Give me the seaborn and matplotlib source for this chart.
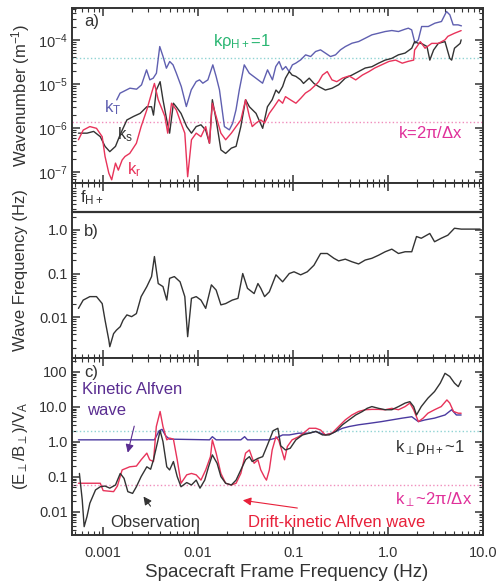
import numpy as np
import pandas as pd
import matplotlib
matplotlib.use("Agg")
import matplotlib.pyplot as plt
import seaborn as sns

# values, stored as log10 (all axes are logarithmic)
# panel a: wavenumber (m^-1) vs spacecraft frame frequency (Hz)
a_blue_logf = [-2.857,-2.822,-2.718,-2.648,-2.596,-2.543,-2.508,-2.473,-2.439,-2.404,-2.369,-2.334,
               -2.299,-2.264,-2.229,-2.177,-2.124,-2.072,-2.020,-1.985,-1.950,-1.897,-1.845,-1.810,-1.775,-1.723,-1.671,-1.636,-1.601,-1.566,-1.514,-1.461,
               -1.391,-1.321,-1.269,-1.217,-1.182,-1.147,-1.112,-1.077,-1.042,-1.007,-0.972,-0.920,-0.868,-0.815,-0.763,-0.711,-0.658,-0.606,-0.553,-0.501,-0.449,-0.379,-0.309,-0.239,-0.170,-0.100,-0.030,
               0.040,0.110,0.179,0.214,0.249,0.284,0.319,0.354,0.424,0.494,0.563,0.616,0.651,0.686,0.738,0.773]
a_blue_logk = [-5.364,-5.212,-5.098,-5.121,-5.023,-4.682,-4.909,-4.871,-4.758,-4.152,-4.379,-4.644,
               -4.492,-4.568,-4.758,-5.061,-5.515,-5.136,-4.947,-4.909,-4.985,-4.909,-4.568,-4.833,-5.136,-5.970,-6.045,-5.894,-5.591,-5.136,-4.568,-4.758,
               -4.871,-4.985,-4.682,-4.909,-4.606,-4.492,-4.682,-4.606,-4.720,-4.568,-4.530,-4.455,-4.341,-4.379,-4.265,-4.227,-4.303,-4.379,-4.341,-4.227,-4.152,-4.076,-4.038,-3.962,-3.886,-3.849,-3.811,
               -3.788,-3.811,-3.758,-3.735,-3.773,-4.076,-4.000,-3.697,-3.697,-3.621,-3.583,-3.356,-3.432,-3.659,-3.659,-3.682]

a_black_logf = [-3.26,-3.17,-3.10,-3.03,-2.98,-2.93,-2.87,-2.82,-2.75,-2.68,-2.61,-2.54,-2.49,-2.47,-2.44,-2.40,-2.37,-2.33,-2.30,-2.26,
                -2.23,-2.18,-2.12,-2.07,-2.02,-1.97,-1.92,-1.88,-1.85,-1.81,-1.76,-1.71,-1.65,-1.60,-1.55,-1.50,-1.46,
                -1.39,-1.32,-1.27,-1.22,-1.18,-1.15,-1.11,-1.08,-1.04,-1.01,-0.97,-0.92,-0.89,-0.83,-0.78,-0.73,-0.66,-0.59,-0.52,-0.45,
                -0.38,-0.31,-0.24,-0.17,-0.10,-0.03,0.04,0.11,0.18,0.25,0.28,0.32,0.35,0.41,0.44,0.48,0.53,0.60,0.65,0.67,0.70,0.76,0.77]
a_black_logk = [-6.12,-6.12,-6.08,-6.20,-6.42,-6.54,-6.42,-6.15,-5.82,-5.74,-5.67,-5.52,-5.52,-5.71,-5.14,-4.95,-5.36,-5.82,-6.12,-5.44,
                -5.52,-5.67,-5.97,-6.12,-5.97,-5.93,-6.05,-6.35,-5.36,-5.82,-6.50,-6.58,-6.46,-6.42,-5.97,-5.36,-5.52,
                -5.67,-6.01,-5.52,-5.36,-5.14,-5.21,-5.06,-4.87,-4.72,-4.80,-4.83,-4.91,-4.99,-4.87,-4.99,-5.06,-5.14,-5.10,-5.02,-4.87,
                -4.80,-4.72,-4.64,-4.61,-4.53,-4.46,-4.42,-4.34,-4.30,-4.19,-4.04,-4.08,-4.08,-4.15,-4.46,-4.23,-4.08,-4.04,-4.42,-4.46,-4.19,-4.08,-4.00]

a_red_logf = [-3.26,-3.21,-3.14,-3.07,-3.01,-2.98,-2.94,-2.91,-2.87,-2.84,-2.80,-2.77,-2.72,-2.65,-2.60,-2.54,-2.49,-2.46,-2.42,-2.39,
              -2.35,-2.32,-2.28,-2.23,-2.18,-2.14,-2.11,-2.07,-2.02,-1.97,-1.92,-1.88,-1.85,-1.81,-1.76,-1.71,-1.65,-1.60,-1.55,-1.50,-1.46,
              -1.43,-1.39,-1.34,-1.30,-1.25,-1.20,-1.15,-1.11,-1.08,-1.03,-0.97,-0.92,-0.87,-0.82,-0.76,-0.73,-0.69,-0.64,-0.59,
              -0.54,-0.48,-0.41,-0.34,-0.27,-0.20,-0.14,-0.07,0.01,0.08,0.15,0.21,0.27,0.28,0.34,0.39,0.46,0.53,0.60,0.63,0.70,0.77]
a_red_logk = [-6.27,-6.05,-5.97,-6.01,-6.20,-6.65,-7.03,-7.18,-6.80,-6.96,-6.73,-6.65,-6.58,-6.35,-5.97,-5.59,-5.21,-4.99,-5.36,-5.52,
              -5.74,-6.12,-5.44,-5.59,-5.89,-6.12,-7.11,-6.27,-6.12,-6.20,-5.97,-6.35,-5.44,-5.74,-6.12,-6.27,-6.12,-5.97,-5.82,-5.36,-5.74,
              -5.97,-5.89,-5.82,-5.89,-5.67,-5.52,-5.36,-5.44,-5.29,-5.36,-5.44,-5.33,-5.21,-5.14,-5.02,-4.95,-4.80,-4.72,-4.91,
              -4.95,-4.87,-4.82,-4.91,-4.80,-4.72,-4.64,-4.57,-4.49,-4.46,-4.53,-4.49,-4.46,-4.23,-4.04,-4.19,-4.08,-4.08,-4.00,-3.92,-3.85,-3.79]

k_rho_one = 3.9e-5      # k rho_H+ = 1
k_grid = 1.37e-6        # k = 2 pi / dx

# panel b: wave frequency (Hz)
b_logf = [-3.26,-3.21,-3.14,-3.07,-3.01,-2.98,-2.94,-2.93,-2.89,-2.86,-2.82,-2.79,-2.75,-2.70,-2.65,-2.60,-2.54,-2.49,-2.46,-2.42,
          -2.37,-2.33,-2.30,-2.25,-2.19,-2.14,-2.11,-2.07,-2.02,-1.97,-1.92,-1.86,-1.81,-1.76,-1.71,-1.64,-1.58,-1.53,-1.48,
          -1.41,-1.37,-1.34,-1.30,-1.25,-1.18,-1.11,-1.04,-0.99,-0.92,-0.85,-0.78,-0.71,-0.64,-0.57,-0.52,-0.45,-0.38,-0.31,-0.24,
          -0.17,-0.10,-0.03,0.04,0.11,0.18,0.25,0.30,0.35,0.44,0.49,0.56,0.63,0.70,0.77,0.97]
b_logw = [-1.80,-1.61,-1.53,-1.53,-1.69,-2.07,-2.53,-2.68,-2.38,-2.30,-2.22,-2.07,-1.95,-1.99,-1.92,-1.53,-1.30,-1.07,-0.61,-1.23,
          -1.30,-1.61,-1.11,-1.07,-1.19,-1.53,-2.45,-1.57,-1.53,-1.61,-1.80,-1.26,-1.38,-1.72,-1.69,-1.61,-1.57,-1.00,-1.34,
          -1.46,-1.23,-1.34,-1.53,-1.42,-1.03,-1.19,-1.00,-0.96,-1.03,-0.96,-0.81,-0.54,-0.54,-0.65,-0.71,-0.67,-0.73,-0.78,-0.69,
          -0.65,-0.58,-0.50,-0.44,-0.54,-0.50,-0.50,-0.15,-0.19,-0.08,-0.27,-0.19,-0.12,0.04,0.02,0.02]
f_hplus = 2.6

# panel c: (E/B)/VA
c_kaw_logf = [-3.26,-2.46,-2.41,-2.38,-2.34,-2.30,-1.88,-1.85,-1.81,-1.55,-1.51,-1.48,-1.25,-1.18,-1.11,-1.04,-0.94,-0.83,-0.76,-0.66,
              -0.59,-0.48,-0.41,-0.31,-0.20,-0.07,0.04,0.15,0.25,0.32,0.39,0.49,0.60,0.67,0.72,0.77]
c_kaw_logr = [0.06,0.06,0.32,0.36,0.17,0.08,0.06,0.15,0.06,0.06,0.15,0.06,0.06,0.11,0.20,0.20,0.25,0.25,0.30,0.20,
              0.25,0.39,0.44,0.49,0.53,0.58,0.63,0.68,0.72,0.58,0.63,0.68,0.77,0.92,0.77,0.77]

c_obs_logf = [-3.25,-3.22,-3.20,-3.17,-3.14,-3.08,-3.03,-2.98,-2.93,-2.87,-2.82,-2.78,-2.74,-2.69,-2.65,-2.60,-2.54,-2.50,-2.47,-2.43,
              -2.40,-2.37,-2.33,-2.30,-2.26,-2.22,-2.18,-2.12,-2.07,-2.02,-1.98,-1.93,-1.89,-1.85,-1.80,-1.76,-1.71,-1.65,-1.60,-1.55,-1.50,-1.46,
              -1.43,-1.37,-1.32,-1.27,-1.21,-1.16,-1.13,-1.08,-1.03,-0.97,-0.90,-0.83,-0.76,-0.69,-0.62,-0.55,-0.48,-0.41,
              -0.34,-0.27,-0.22,-0.17,-0.10,-0.03,0.04,0.11,0.18,0.23,0.27,0.30,0.35,0.42,0.49,0.55,0.60,0.65,0.70,0.74,0.77]
c_obs_logr = [-0.90,-1.66,-2.42,-2.13,-1.75,-1.37,-1.28,-1.26,-1.32,-1.23,-0.90,-1.04,-1.42,-1.47,-1.28,-0.99,-0.71,-0.78,-0.51,-0.04,
              0.32,0.01,-0.71,-0.80,-0.56,-0.99,-1.28,-1.16,-1.23,-1.09,-1.32,-1.09,-0.71,-0.37,-0.61,-0.99,-1.18,-1.23,-1.09,-0.80,-0.51,-0.42,
              -0.56,-0.47,-0.42,-0.09,0.32,0.39,-0.11,-0.23,-0.18,0.06,0.20,0.25,0.30,0.20,0.20,0.30,0.49,0.63,
              0.77,0.87,0.96,1.01,0.96,0.92,0.92,1.01,1.11,1.15,1.01,0.77,1.01,1.25,1.44,1.68,1.96,1.87,1.68,1.58,1.75]

c_dk_logf = [-3.26,-3.03,-3.00,-2.89,-2.85,-2.80,-2.72,-2.65,-2.60,-2.54,-2.51,-2.47,-2.44,-2.40,-2.37,-2.33,-2.30,-2.26,-2.22,-2.18,
             -2.12,-2.07,-2.02,-1.97,-1.92,-1.87,-1.85,-1.81,-1.76,-1.71,-1.65,-1.60,-1.55,-1.50,-1.46,
             -1.41,-1.37,-1.34,-1.30,-1.28,-1.25,-1.22,-1.18,-1.15,-1.11,-1.09,-1.06,-1.01,-0.94,-0.89,-0.83,-0.76,-0.71,-0.66,-0.59,
             -0.52,-0.45,-0.38,-0.31,-0.24,-0.17,-0.10,-0.03,0.04,0.11,0.18,0.23,0.27,0.32,0.37,0.42,0.49,0.56,0.62,0.65,0.69,0.74,0.77]
c_dk_logr = [-1.18,-1.18,-1.39,-1.42,-1.26,-0.80,-0.71,-0.69,-0.51,-0.32,-0.51,-0.56,0.44,0.87,0.44,0.06,0.11,0.08,-0.51,-1.18,
             -0.94,-0.90,-0.94,-1.09,-0.80,-0.42,0.06,-0.32,-0.90,-1.18,-1.23,-1.18,-0.90,-0.32,-0.23,
             -0.61,-0.51,-0.80,-1.01,-1.09,-0.80,-0.23,0.15,0.04,-0.32,-0.51,-0.13,0.06,0.15,0.25,0.39,0.39,0.34,0.20,0.25,
             0.44,0.63,0.77,0.87,0.92,0.93,0.93,0.92,0.96,0.92,1.01,1.11,0.92,0.58,0.68,0.82,0.92,1.01,1.20,1.11,0.87,0.82,0.82]
ratio_kperp_rho = 2.0
ratio_kperp_grid = 0.059

x_ticks = [0.001, 0.01, 0.1, 1.0, 10.0]
x_ticklabels = ["0.001", "0.01", "0.1", "1.0", "10.0"]

sns.set_theme(style="ticks")
plt.rcParams["font.family"] = ["Liberation Sans", "DejaVu Sans"]
plt.rcParams["mathtext.fontset"] = "custom"
plt.rcParams["mathtext.rm"] = "Liberation Sans"
plt.rcParams["mathtext.it"] = "Liberation Sans"

BLUE = "#5f5fb0"
BLACK = "#333333"
RED = "#e8335a"
CYAN = "#8fd3d3"
PINK = "#f08dbc"

fig = plt.figure(figsize=(4.99, 5.82), dpi=100)
ax_a = fig.add_axes([0.1443, 0.6856, 0.8236, 0.3007])
ax_b = fig.add_axes([0.1443, 0.3849, 0.8236, 0.3007])
ax_c = fig.add_axes([0.1443, 0.0808, 0.8236, 0.3041])


def curve(ax, logf, logy, color):
    df = pd.DataFrame({"f": np.power(10.0, logf), "y": np.power(10.0, logy)})
    sns.lineplot(data=df, x="f", y="y", ax=ax, color=color, lw=1.0,
                 estimator=None, sort=False)


# panel a
ax_a.axhline(k_rho_one, color=CYAN, ls=":", lw=1.0)
ax_a.axhline(k_grid, color=PINK, ls=":", lw=1.0)
curve(ax_a, a_blue_logf, a_blue_logk, BLUE)
curve(ax_a, a_black_logf, a_black_logk, BLACK)
curve(ax_a, a_red_logf, a_red_logk, RED)

# panel b
ax_b.axhline(f_hplus, color=BLACK, lw=1.6)
curve(ax_b, b_logf, b_logw, BLACK)

# panel c
ax_c.axhline(ratio_kperp_rho, color=CYAN, ls=":", lw=1.0)
ax_c.axhline(ratio_kperp_grid, color=PINK, ls=":", lw=1.0)
curve(ax_c, c_kaw_logf, c_kaw_logr, "#4b3aa0")
curve(ax_c, c_dk_logf, c_dk_logr, RED)
curve(ax_c, c_obs_logf, c_obs_logr, BLACK)

for ax in (ax_a, ax_b, ax_c):
    ax.set_xscale("log")
    ax.set_yscale("log")
    ax.set_xlim(4.7e-4, 10)
    ax.set_xticks(x_ticks)
    ax.tick_params(which="both", direction="in", top=True, right=True,
                   colors=BLACK, labelsize=10.5, pad=3)
    ax.tick_params(which="major", length=6, width=1.1)
    ax.tick_params(which="minor", length=3, width=0.8)
    for s in ax.spines.values():
        s.set_linewidth(1.4)
        s.set_color(BLACK)
    ax.set_xlabel("")
    ax.set_ylabel("")

ax_a.set_ylim(5.6e-8, 5.3e-4)
ax_a.set_yticks([1e-7, 1e-6, 1e-5, 1e-4])
ax_a.set_yticklabels(["10$^{-7}$", "10$^{-6}$", "10$^{-5}$", "10$^{-4}$"])
ax_a.set_xticklabels([])
ax_a.text(0.03, 0.92, "a)", transform=ax_a.transAxes, fontsize=12, color=BLACK, va="center")
ax_a.text(0.343, 0.806, r"k$\rho_{H+}$=1", transform=ax_a.transAxes, fontsize=12, color="#2bb673", va="center")
ax_a.text(0.793, 0.286, r"k=2$\pi$/$\Delta$x", transform=ax_a.transAxes, fontsize=12, color="#e0309a", va="center")
ax_a.text(0.078, 0.43, "k$_T$", transform=ax_a.transAxes, fontsize=12, color=BLUE, va="center")
ax_a.text(0.110, 0.275, "k$_s$", transform=ax_a.transAxes, fontsize=12, color=BLACK, va="center")
ax_a.text(0.134, 0.075, "k$_r$", transform=ax_a.transAxes, fontsize=12, color=RED, va="center")

ax_b.set_ylim(1.15e-3, 12)
ax_b.set_yticks([0.01, 0.1, 1.0])
ax_b.set_yticklabels(["0.01", "0.1", "1.0"])
ax_b.set_xticklabels([])
ax_b.text(0.02, 0.914, "f$_{H+}$", transform=ax_b.transAxes, fontsize=12, color=BLACK, va="center")
ax_b.text(0.03, 0.72, "b)", transform=ax_b.transAxes, fontsize=12, color=BLACK, va="center")

ax_c.set_ylim(2.2e-3, 250)
ax_c.set_yticks([0.01, 0.1, 1.0, 10.0, 100.0])
ax_c.set_yticklabels(["0.01", "0.1", "1.0", "10.0", "100"])
ax_c.set_xticklabels(x_ticklabels)
ax_c.tick_params(axis="x", pad=8)
ax_c.text(0.03, 0.92, "c)", transform=ax_c.transAxes, fontsize=12, color=BLACK, va="center")
ax_c.text(0.024, 0.82, "Kinetic Alfven", transform=ax_c.transAxes, fontsize=12, color="#5a2d91", va="center")
ax_c.text(0.036, 0.705, "wave", transform=ax_c.transAxes, fontsize=12, color="#5a2d91", va="center")
ax_c.annotate("", xy=(0.134, 0.45), xytext=(0.153, 0.63), xycoords="axes fraction",
              arrowprops=dict(arrowstyle="-|>", color="#5a2d91", lw=0.8, mutation_scale=12))
ax_c.text(0.092, 0.068, "Observation", transform=ax_c.transAxes, fontsize=12, color=BLACK, va="center")
ax_c.annotate("", xy=(0.170, 0.23), xytext=(0.195, 0.15), xycoords="axes fraction",
              arrowprops=dict(arrowstyle="-|>", color=BLACK, lw=0.8, mutation_scale=12))
ax_c.text(0.428, 0.068, "Drift-kinetic Alfven wave", transform=ax_c.transAxes, fontsize=12, color="#e8203a", va="center")
ax_c.annotate("", xy=(0.409, 0.198), xytext=(0.555, 0.15), xycoords="axes fraction",
              arrowprops=dict(arrowstyle="-|>", color="#e8203a", lw=0.8, mutation_scale=12))
ax_c.text(0.786, 0.497, r"k$_\perp\rho_{H+}$~1", transform=ax_c.transAxes, fontsize=12, color=BLACK, va="center")
ax_c.text(0.786, 0.198, r"k$_\perp$~2$\pi$/$\Delta$x", transform=ax_c.transAxes, fontsize=12, color="#e0309a", va="center")

# axis titles
fig.text(0.042, 0.837, "Wavenumber (m$^{-1}$)", rotation=90, ha="center", va="center", fontsize=12, color=BLACK)
fig.text(0.042, 0.536, "Wave Frequency (Hz)", rotation=90, ha="center", va="center", fontsize=12, color=BLACK)
fig.text(0.042, 0.235, r"(E$_\perp$/B$_\perp$)/V$_A$", rotation=90, ha="center", va="center", fontsize=12, color=BLACK)
fig.text(0.575, 0.016, "Spacecraft Frame Frequency (Hz)", ha="center", va="center", fontsize=13.5, color=BLACK)

fig.savefig("out.png", dpi=100)
